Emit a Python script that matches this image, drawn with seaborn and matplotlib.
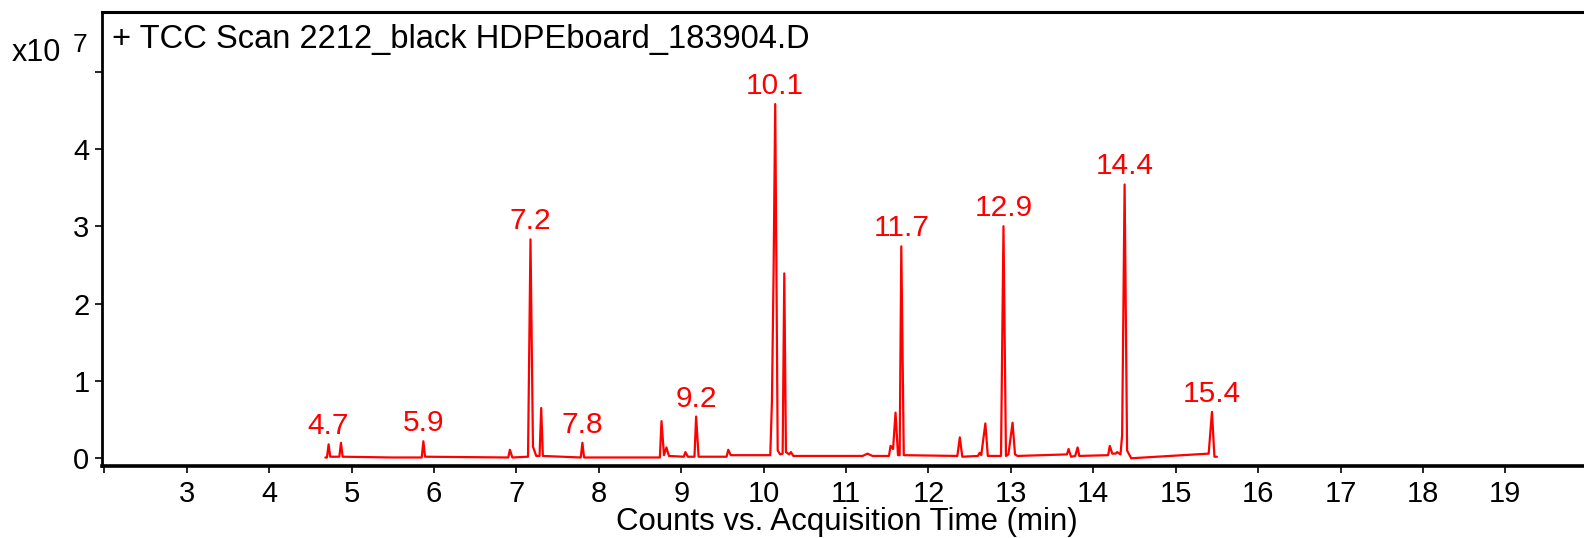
import matplotlib
matplotlib.use('Agg')
import matplotlib.pyplot as plt
import pandas as pd
import seaborn as sns

# trace vertices (time in min, counts in 1e7)
rt = [4.68, 4.70, 4.72, 4.74, 4.85, 4.87, 4.89, 5.50, 5.85, 5.87, 5.89,
      6.90, 6.92, 6.95, 7.14, 7.17, 7.20, 7.24, 7.28, 7.30, 7.32,
      7.78, 7.80, 7.82, 8.74, 8.76, 8.79, 8.82, 8.85, 9.03, 9.05, 9.08,
      9.16, 9.18, 9.21, 9.55, 9.57, 9.60, 10.08, 10.10, 10.12, 10.14,
      10.17, 10.20, 10.23, 10.25, 10.27, 10.31, 10.33, 10.36,
      11.20, 11.26, 11.32, 11.52, 11.54, 11.57, 11.60, 11.63, 11.65,
      11.67, 11.70, 12.35, 12.38, 12.41, 12.60, 12.62, 12.64, 12.69,
      12.72, 12.88, 12.91, 12.94, 12.97, 13.02, 13.05, 13.08,
      13.68, 13.70, 13.73, 13.78, 13.81, 13.83, 14.18, 14.20, 14.23,
      14.27, 14.29, 14.33, 14.35, 14.38, 14.41, 14.46, 15.40, 15.44,
      15.47, 15.50]
counts = [0.01, 0.01, 0.18, 0.02, 0.02, 0.20, 0.02, 0.01, 0.01, 0.22, 0.02,
          0.01, 0.11, 0.01, 0.02, 2.83, 0.15, 0.03, 0.03, 0.65, 0.03,
          0.01, 0.20, 0.01, 0.01, 0.48, 0.04, 0.14, 0.03, 0.02, 0.08, 0.02,
          0.02, 0.54, 0.02, 0.02, 0.11, 0.04, 0.04, 0.73, 2.40, 4.58,
          0.10, 0.05, 0.06, 2.39, 0.08, 0.05, 0.08, 0.03,
          0.03, 0.06, 0.03, 0.03, 0.16, 0.12, 0.59, 0.04, 0.04,
          2.74, 0.04, 0.03, 0.27, 0.02, 0.03, 0.07, 0.04, 0.45,
          0.03, 0.03, 3.00, 0.03, 0.05, 0.46, 0.05, 0.03,
          0.05, 0.12, 0.02, 0.03, 0.14, 0.03, 0.04, 0.16, 0.06,
          0.06, 0.08, 0.05, 0.30, 3.54, 0.10, 0.00, 0.06, 0.60,
          0.02, 0.02]

# labelled peaks
peak_labels = ['4.7', '5.9', '7.2', '7.8', '9.2', '10.1', '11.7', '12.9', '14.4', '15.4']
peak_rt = [4.71, 5.87, 7.17, 7.80, 9.18, 10.14, 11.67, 12.91, 14.38, 15.44]
peak_h = [0.18, 0.22, 2.83, 0.20, 0.54, 4.58, 2.74, 3.00, 3.54, 0.60]

x_ticks = list(range(2, 20))
x_ticklabels = [''] + [str(t) for t in range(3, 20)]
y_ticks = [0, 1, 2, 3, 4, 5]
y_ticklabels = ['0', '1', '2', '3', '4', '']

df = pd.DataFrame({'rt': rt, 'counts': counts})

sns.set_style('white')
plt.rcParams['font.family'] = ['Liberation Sans', 'DejaVu Sans']
plt.rcParams['text.color'] = 'black'
plt.rcParams['axes.labelcolor'] = 'black'

fig = plt.figure(figsize=(15.84, 5.38), dpi=100)
ax = fig.add_axes([102 / 1584, 72 / 538, 1 - 102 / 1584, 454 / 538])

sns.lineplot(data=df, x='rt', y='counts', sort=False, estimator=None,
             color='#ff0000', linewidth=1.6, ax=ax)

for lab, x, y in zip(peak_labels, peak_rt, peak_h):
    ax.annotate(lab, (x, y), xytext=(0, 10), textcoords='offset pixels',
                ha='center', va='baseline', color='#ff0000', fontsize=21.5)

ax.set_xlim(1.97, 19.955)
ax.set_ylim(-0.10, 5.77)
ax.set_xticks(x_ticks)
ax.set_xticklabels(x_ticklabels)
ax.set_yticks(y_ticks)
ax.set_yticklabels(y_ticklabels)
ax.tick_params(axis='both', direction='out', length=5, width=1.2,
               colors='black', labelsize=21, bottom=True, left=True)
ax.tick_params(axis='x', pad=5)
ax.tick_params(axis='y', pad=4)

ax.spines['right'].set_visible(False)
ax.spines['top'].set_linewidth(2.2)
ax.spines['left'].set_linewidth(2.0)
ax.spines['bottom'].set_linewidth(2.6)
for s in ['top', 'left', 'bottom']:
    ax.spines[s].set_color('black')

ax.set_xlabel('')
ax.set_ylabel('')
fig.text(847 / 1584, 1 - 530 / 538, 'Counts vs. Acquisition Time (min)',
         ha='center', va='baseline', fontsize=22.5)

fig.text(112 / 1584, 1 - 48 / 538, '+ TCC Scan 2212_black HDPEboard_183904.D',
         ha='left', va='baseline', fontsize=23.5)
fig.text(12 / 1584, 1 - 61 / 538, 'x10', ha='left', va='baseline', fontsize=22)
fig.text(73 / 1584, 1 - 52 / 538, '7', ha='left', va='baseline', fontsize=19)

fig.savefig('out.png', dpi=100)
